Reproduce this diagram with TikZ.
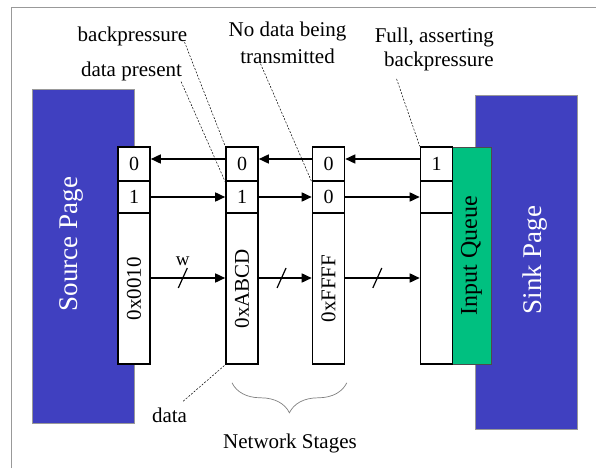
\documentclass[tikz,border=0pt]{standalone}
\usepackage{fontspec}
\usepackage{graphicx}
\setmainfont{Liberation Serif}
\usetikzlibrary{arrows.meta,decorations.pathreplacing}
\definecolor{pageblue}{RGB}{64,64,192}
\definecolor{queuegreen}{RGB}{0,192,128}
\begin{document}
\begin{tikzpicture}[x=1pt,y=-1pt,
  lbl/.style={inner sep=0pt,font=\fontsize{21}{25}\selectfont},
  page/.style={draw=gray!80,line width=0.8pt,fill=pageblue,inner sep=0pt,
    minimum width=102pt,minimum height=334pt},
  pagetext/.style={inner sep=0pt,text=white,font=\fontsize{27}{30}\selectfont},
  cell/.style={draw=black,line width=1.6pt,fill=white,inner sep=0pt,
    minimum width=32pt,font=\fontsize{20}{22}\selectfont},
  flagcell/.style={cell,minimum height=34pt},
  validcell/.style={cell,minimum height=32pt},
  datacell/.style={cell,minimum height=151pt,font=\fontsize{21}{22}\selectfont},
  arr/.style={line width=1.6pt,-{Triangle[length=10pt,width=9pt]}},
  leader/.style={line width=0.5pt,dash pattern=on 2pt off 1.5pt},
  buspoint/.style={inner sep=0pt,minimum size=0pt},
  slash/.style={line width=1.2pt},
]
\useasboundingbox (0,0) rectangle (596,468);

% frame
\draw[gray!80,line width=1pt] (11,468) -- (11,7.5) -- (596,7.5);

% source and sink pages
\node[page] (src) at (83,256) {};
\node[pagetext] (srctext) at (71,244) {\rotatebox{90}{Source Page}};
\node[page] (sink) at (526,262) {};
\node[pagetext] (sinktext) at (535,260) {\rotatebox{90}{Sink Page}};

% input queue
\node[draw=black!70,line width=0.8pt,fill=queuegreen,inner sep=0pt,
  minimum width=39pt,minimum height=217pt,font=\fontsize{24}{26}\selectfont]
  (queue) at (471.5,255.5) {\rotatebox{90}{Input Queue}};

% pipeline registers: backpressure flag, data-present flag, data word
\foreach \k/\cx/\bp/\dv/\dw in {0/134/0/1/0x0010, 1/242/0/1/0xABCD, 2/328.5/0/0/0xFFFF, 3/436.5/1//}{
  \node[flagcell]  (s\k top) at (\cx,164)   {\bp};
  \node[validcell] (s\k mid) at (\cx,197)   {\dv};
  \node[datacell]  (s\k dat) at (\cx,288.5) {\rotatebox{90}{\dw}};
}

% backpressure (right to left)
\foreach \a/\b in {1/0,2/1,3/2}
  \draw[arr] ([yshift=5pt]s\a top.west) -- ([yshift=5pt]s\b top.east);

% data present (left to right)
\foreach \a/\b in {0/1,1/2,2/3}
  \draw[arr] (s\a mid.east) -- (s\b mid.west);

% data buses with width marks
\foreach \a/\b in {0/1,1/2,2/3}{
  \draw[arr] ([yshift=10.5pt]s\a dat.east) -- node[pos=.43,buspoint] (w\a) {}
    ([yshift=10.5pt]s\b dat.west);
  \draw[slash] ([shift={(-4.5,10)}]w\a.center) -- ([shift={(4.5,-10)}]w\a.center);
}
\node[lbl,font=\fontsize{19}{20}\selectfont,anchor=south] (wlbl) at ([yshift=12pt]w0.center) {w};

% annotations
\node[lbl,anchor=base] (lbp) at (132.5,42) {backpressure};
\node[lbl,anchor=base] (lpres) at (131.5,77) {data present};
\node[lbl,anchor=north,align=center,font=\fontsize{21}{27}\selectfont] (lnd) at (287.5,21.5)
  {No data being\\transmitted};
\node[lbl,anchor=north east,align=right,font=\fontsize{21}{24}\selectfont] (lfull) at (494,27.5)
  {Full, asserting\\backpressure};
\node[lbl,anchor=base] (ldata) at (169.5,422) {data};
\node[lbl,anchor=base] (lstages) at (290,448) {Network Stages};

\draw[leader] ([xshift=-3pt]lbp.base east) -- (s1top.north west);
\draw[leader] ([xshift=-1pt]lpres.south east) -- (s1top.south west);
\draw[leader] ([xshift=-27pt]lnd.south) -- (s2top.south west);
\draw[leader] ([shift={(22,8)}]lfull.south west) -- (s3top.north west);
\draw[leader] ([shift={(-4,-6)}]ldata.north east) -- (s1dat.south west);

% network stage brace
\draw[gray,line width=0.7pt,decorate,decoration={brace,mirror,amplitude=30pt}]
  ([shift={(-10,18)}]s1dat.south) -- ([shift={(1.5,18)}]s2dat.south east);
\end{tikzpicture}
\end{document}
